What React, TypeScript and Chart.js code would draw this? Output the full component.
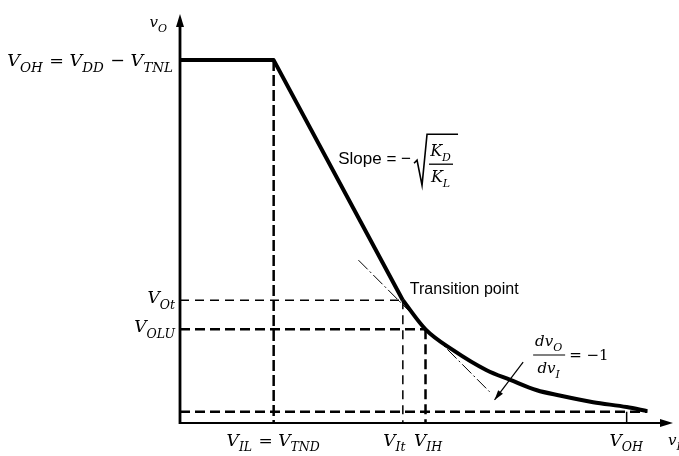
import React, { useEffect, useRef } from "react";
import { Chart, registerables } from "chart.js";

Chart.register(...registerables);

// Characteristic levels (input axis 0..5, output axis 0..5.5, arbitrary volts)
const vIL = 0.95; // V_IL = V_TND
const vIt = 2.26; // transition point input
const vIH = 2.49;
const vInHigh = 4.53; // V_OH marked on the input axis
const vOH = 4.88; // V_OH = V_DD - V_TNL
const vOt = 1.65; // transition point output
const vOLU = 1.26;
const vOL = 0.15;

// Load-limited flat part followed by the driver-saturation straight segment
const saturationX = [0, 0.95, 2.26];
const saturationY = [4.88, 4.88, 1.65];

// Driver in the nonsaturation region
const nonsatX = [2.26, 2.49, 2.77, 3.11, 3.35, 3.62, 3.85, 4.19, 4.53, 4.74];
const nonsatY = [1.65, 1.26, 0.98, 0.71, 0.58, 0.44, 0.37, 0.28, 0.215, 0.16];

// Unity-gain tangent and the pointer to it
const tangentX = [1.81, 3.14];
const tangentY = [2.19, 0.42];
const pointerX = [3.48, 3.19];
const pointerY = [0.82, 0.31];

// Text
const yTickLabels = ["V_{OH} = V_{DD} − V_{TNL}", "V_{Ot}", "V_{OLU}"];
const xTickLabels = ["V_{IL} = V_{TND}", "V_{It}", "V_{IH}", "V_{OH}"];
const yTitle = "v_{O}";
const xTitle = "v_{I}";

type Run = { t: string; sub: boolean };

function parseRuns(s: string): Run[] {
  const out: Run[] = [];
  const re = /_\{([^}]*)\}/g;
  let last = 0;
  let m: RegExpExecArray | null;
  while ((m = re.exec(s))) {
    if (m.index > last) out.push({ t: s.slice(last, m.index), sub: false });
    out.push({ t: m[1], sub: true });
    last = m.index + m[0].length;
  }
  if (last < s.length) out.push({ t: s.slice(last), sub: false });
  return out;
}

const SERIF = '"DejaVu Serif"';
const SANS = '"Liberation Sans"';

function drawRich(
  ctx: CanvasRenderingContext2D,
  text: string,
  x: number,
  yMid: number,
  align: "left" | "right" | "center",
  size = 17,
  subSize = 12.5,
  family = SERIF,
  style = "italic"
) {
  const runs = parseRuns(text);
  const mainFont = `${style} ${size}px ${family}`;
  const subFont = `${style} ${subSize}px ${family}`;
  const widths = runs.map((r) => {
    ctx.font = r.sub ? subFont : mainFont;
    return ctx.measureText(r.t).width + (r.sub ? 1 : 0);
  });
  const total = widths.reduce((a, b) => a + b, 0);
  let cx = align === "left" ? x : align === "right" ? x - total : x - total / 2;
  const base = yMid + size * 0.36;
  ctx.textAlign = "left";
  ctx.textBaseline = "alphabetic";
  runs.forEach((r, i) => {
    ctx.font = r.sub ? subFont : mainFont;
    ctx.fillText(r.t, cx, r.sub ? base + size * 0.3 : base);
    cx += widths[i];
  });
  return total;
}

const line = (
  xs: number[],
  ys: number[],
  width: number,
  dash: number[] = [],
  extra: Record<string, unknown> = {}
) => ({
  data: xs.map((x, i) => ({ x, y: ys[i] })),
  showLine: true,
  borderColor: "#000",
  backgroundColor: "#000",
  borderWidth: width,
  borderDash: dash,
  borderCapStyle: "butt",
  pointRadius: 0,
  tension: 0,
  clip: false,
  ...extra,
});

const axesPlugin = {
  id: "arrowAxes",
  beforeDatasetsDraw(chart: Chart) {
    const { ctx, chartArea } = chart;
    const { left, right, top, bottom } = chartArea;
    ctx.save();
    ctx.strokeStyle = "#000";
    ctx.fillStyle = "#000";
    ctx.lineWidth = 2.8;
    ctx.beginPath();
    ctx.moveTo(left, bottom + 1);
    ctx.lineTo(left, top + 8);
    ctx.stroke();
    ctx.beginPath();
    ctx.moveTo(left, top);
    ctx.lineTo(left - 4, top + 13);
    ctx.lineTo(left + 4, top + 13);
    ctx.closePath();
    ctx.fill();
    ctx.lineWidth = 2;
    ctx.beginPath();
    ctx.moveTo(left - 1, bottom);
    ctx.lineTo(right - 8, bottom);
    ctx.stroke();
    ctx.beginPath();
    ctx.moveTo(right, bottom);
    ctx.lineTo(right - 13, bottom - 4);
    ctx.lineTo(right - 13, bottom + 4);
    ctx.closePath();
    ctx.fill();
    ctx.restore();
  },
};

const textPlugin = {
  id: "vtcText",
  afterDatasetsDraw(chart: Chart) {
    const { ctx, chartArea } = chart;
    const { left, right, top, bottom } = chartArea;
    const xs = chart.scales.x;
    const ys = chart.scales.y;
    const px = (v: number) => xs.getPixelForValue(v);
    const py = (v: number) => ys.getPixelForValue(v);
    ctx.save();
    ctx.fillStyle = "#000";
    ctx.strokeStyle = "#000";

    // Output-axis levels
    drawRich(ctx, yTickLabels[0], left - 6, py(vOH), "right", 17.5, 13.5);
    drawRich(ctx, yTickLabels[1], left - 4, py(vOt) - 3, "right");
    drawRich(ctx, yTickLabels[2], left - 4, py(vOLU) - 3, "right");

    // Input-axis levels
    const xl = bottom + 17;
    drawRich(ctx, xTickLabels[0], px(vIL), xl, "center");
    drawRich(ctx, xTickLabels[1], px(vIt) - 8, xl, "center");
    drawRich(ctx, xTickLabels[2], px(vIH) + 3, xl, "center");
    drawRich(ctx, xTickLabels[3], px(vInHigh), xl, "center");

    // Axis titles
    drawRich(ctx, yTitle, left - 12, top + 8, "right", 15, 11);
    drawRich(ctx, xTitle, right - 5, xl, "left", 15, 11);

    // Slope annotation beside the straight segment
    const mx = (px(saturationX[1]) + px(saturationX[2])) / 2;
    const my = (py(saturationY[1]) + py(saturationY[2])) / 2;
    const sx = mx;
    const sy = my - 21;
    ctx.font = `17px ${SANS}`;
    ctx.textBaseline = "middle";
    ctx.textAlign = "left";
    const slopeText = "Slope = −";
    ctx.fillText(slopeText, sx, sy);
    const ex = sx + ctx.measureText(slopeText).width + 3;
    ctx.lineWidth = 1.6;
    ctx.beginPath();
    ctx.moveTo(ex, sy + 4);
    ctx.lineTo(ex + 3, sy + 1);
    ctx.lineTo(ex + 8, sy + 26);
    ctx.lineTo(ex + 13, sy - 25);
    ctx.lineTo(ex + 44, sy - 25);
    ctx.stroke();
    const fx = ex + 27;
    drawRich(ctx, "K_{D}", fx, sy - 9, "center", 16, 11);
    ctx.lineWidth = 1.3;
    ctx.beginPath();
    ctx.moveTo(fx - 12, sy + 5);
    ctx.lineTo(fx + 12, sy + 5);
    ctx.stroke();
    drawRich(ctx, "K_{L}", fx, sy + 17, "center", 16, 11);

    // Transition point label
    ctx.font = `16px ${SANS}`;
    ctx.textBaseline = "middle";
    ctx.textAlign = "left";
    ctx.fillText("Transition point", px(vIt) + 7, py(vOt) - 11);

    // Unity-gain label with its pointer
    const ax0 = px(pointerX[0]);
    const ay0 = py(pointerY[0]);
    const ax1 = px(pointerX[1]);
    const ay1 = py(pointerY[1]);
    const ang = Math.atan2(ay1 - ay0, ax1 - ax0);
    ctx.beginPath();
    ctx.moveTo(ax1, ay1);
    ctx.lineTo(ax1 - 10 * Math.cos(ang) + 3 * Math.sin(ang), ay1 - 10 * Math.sin(ang) - 3 * Math.cos(ang));
    ctx.lineTo(ax1 - 10 * Math.cos(ang) - 3 * Math.sin(ang), ay1 - 10 * Math.sin(ang) + 3 * Math.cos(ang));
    ctx.closePath();
    ctx.fill();
    const cx = ax0 + 26;
    drawRich(ctx, "dv_{O}", cx, ay0 - 21, "center", 15, 11);
    ctx.lineWidth = 1.2;
    ctx.beginPath();
    ctx.moveTo(cx - 16, ay0 - 7);
    ctx.lineTo(cx + 16, ay0 - 7);
    ctx.stroke();
    drawRich(ctx, "dv_{I}", cx, ay0 + 6, "center", 15, 11);
    drawRich(ctx, "= −1", cx + 20, ay0 - 7, "left", 15, 11, SERIF, "normal");
    ctx.restore();
  },
};

export default function App() {
  const ref = useRef<HTMLCanvasElement | null>(null);

  useEffect(() => {
    if (!ref.current) return;
    const chart = new Chart(ref.current, {
      type: "scatter",
      data: {
        datasets: [
          line(saturationX, saturationY, 4, [], { borderJoinStyle: "round" }),
          line(nonsatX, nonsatY, 4, [], { cubicInterpolationMode: "monotone" }),
          line([vIL, vIL], [vOH, 0], 2.5, [11, 4]),
          line([0, vIt], [vOt, vOt], 1.5, [9, 6]),
          line([vIt, vIt], [vOt, 0], 1.5, [9, 6]),
          line([0, vIH], [vOLU, vOLU], 2.5, [10, 5]),
          line([vIH, vIH], [vOLU, 0], 2.5, [10, 5]),
          line([0, nonsatX[nonsatX.length - 1]], [vOL, vOL], 2.5, [10, 5]),
          line([vInHigh, vInHigh], [vOL, 0], 1.5),
          line(tangentX, tangentY, 1, [13, 3, 2, 3]),
          line(pointerX, pointerY, 1.2),
        ] as any,
      },
      options: {
        responsive: false,
        animation: false,
        devicePixelRatio: 1,
        events: [],
        layout: { padding: { left: 180, right: 6, top: 14, bottom: 33 } },
        scales: {
          x: { type: "linear", min: 0, max: 5, display: false },
          y: { type: "linear", min: 0, max: 5.5, display: false },
        },
        plugins: { legend: { display: false }, tooltip: { enabled: false } },
      },
      plugins: [axesPlugin, textPlugin],
    });
    return () => chart.destroy();
  }, []);

  return (
    <div style={{ position: "fixed", left: 0, top: 0, width: 679, height: 456, background: "#fff" }}>
      <canvas ref={ref} width={679} height={456} style={{ display: "block" }} />
    </div>
  );
}
